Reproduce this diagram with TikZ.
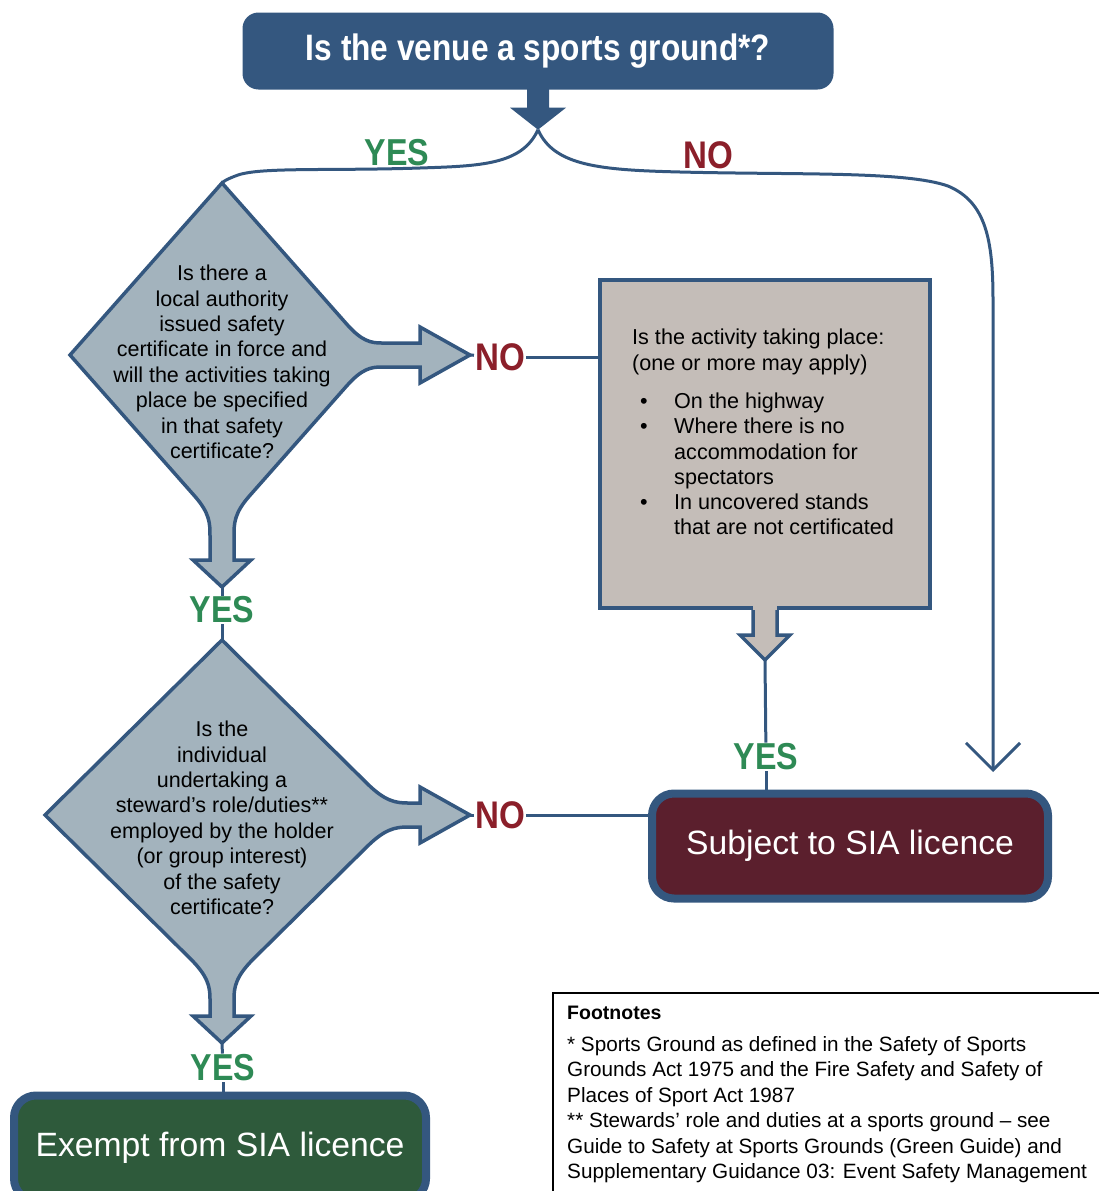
\documentclass[tikz,border=0pt]{standalone}
\usepackage{fontspec}
\setmainfont{Liberation Sans}
\newfontfamily\narrowfont[FakeStretch=0.86]{Liberation Sans}
\usetikzlibrary{arrows.meta}
\usetikzlibrary{positioning}
\definecolor{sgblue}{HTML}{34577F}
\definecolor{sggreen}{HTML}{2E8A55}
\definecolor{sgred}{HTML}{8B1F2A}
\definecolor{sgdiam}{HTML}{A3B3BD}
\definecolor{sggrey}{HTML}{C4BDB8}
\definecolor{sgmaroon}{HTML}{5B1F2D}
\definecolor{sgforest}{HTML}{2E5A3B}
\tikzset{flow/.style={draw=sgblue, line width=3pt},
 yeslabel/.style={text=sggreen, inner sep=1pt, font=\narrowfont\bfseries\fontsize{37.5}{37.5}\selectfont},
 nolabel/.style={text=sgred, inner sep=1pt, font=\narrowfont\bfseries\fontsize{38.5}{38.5}\selectfont},
 question/.style={fill=sgblue, rounded corners=16pt, minimum width=591pt, minimum height=77pt,
  text=white, font=\narrowfont\bfseries\fontsize{36.8}{36.8}\selectfont},
 decisiontext/.style={align=center, inner sep=0pt, font=\fontsize{21.5}{25.4}\selectfont},
 actbox/.style={fill=sggrey, draw=sgblue, line width=4pt, minimum width=330pt, minimum height=328pt},
 outcome/.style={draw=sgblue, line width=8pt, rounded corners=22pt, minimum height=105pt,
  text=white, font=\fontsize{33.7}{33.7}\selectfont},
 notebox/.style={draw=black, line width=1.5pt},
 }
\newcommand{\actitem}{\makebox[42pt][l]{\hspace{8pt}\textbullet}}
\newcommand{\decision}[6]{%
 \begin{scope}[shift={(#1,#2)}]
  \filldraw[fill=sgdiam, draw=sgblue, line width=3.5pt]
   (0,-#4) -- ({0.82*#3},{-0.18*#4})
   .. controls ({0.92*#3},{-0.08*#4}) and ({0.98*#3},-12) .. ({1.05*#3},-12)
   -- ({#5-50},-12) -- ({#5-50},-28) -- (#5,0) -- ({#5-50},28) -- ({#5-50},12) -- ({1.05*#3},12)
   .. controls ({0.98*#3},12) and ({0.92*#3},{0.08*#4}) .. ({0.82*#3},{0.18*#4})
   -- ({0.18*#3},{0.82*#4})
   .. controls ({0.08*#3},{0.92*#4}) and (12,{0.98*#4}) .. (12,{1.05*#4})
   -- (12,{#6-27}) -- (29,{#6-27}) -- (0,#6) -- (-29,{#6-27}) -- (-12,{#6-27}) -- (-12,{1.05*#4})
   .. controls (-12,{0.98*#4}) and ({-0.08*#3},{0.92*#4}) .. ({-0.18*#3},{0.82*#4})
   -- (-#3,0) -- cycle;
 \end{scope}}

\begin{document}
\begin{tikzpicture}[x=1pt, y=-1pt]
    \useasboundingbox (0,0) rectangle (1099,1191);
    \clip (0,0) rectangle (1099,1191);

    \node[question] (q) at (538,51) {Is the venue a sports ground*?};
    \fill[sgblue] (q.south) ++(-11,-3) -- ++(0,21) -- ++(-17,0) -- ++(28,22) coordinate (qtip)
        -- ++(28,-22) -- ++(-17,0) -- ++(0,-21) -- cycle;

    \decision{222}{355}{152}{172}{248}{232}
    \coordinate (d1t) at (222,183);
    \coordinate (d1r) at (470,355);
    \coordinate (d1b) at (222,587);
    \node[decisiontext] (d1) at (222,362) {Is there a\\local authority\\issued safety\\certificate in force and\\
        will the activities taking\\place be specified\\in that safety\\certificate?};

    \decision{222}{815}{177}{175}{248}{228}
    \coordinate (d2t) at (222,640);
    \coordinate (d2r) at (470,815);
    \coordinate (d2b) at (222,1043);
    \node[decisiontext] (d2) at (222,818) {Is the\\individual\\undertaking a\\steward’s role/duties**\\
        employed by the holder\\(or group interest)\\of the safety\\certificate?};

    \node[actbox] (act) at (765,444) {};
    \node[anchor=north west, align=left, inner sep=0pt, font=\fontsize{21.6}{25.3}\selectfont]
        (acttxt) at (632,329) {Is the activity taking place:\\(one or more may apply)\\[13pt]
        \actitem On the highway\\\actitem Where there is no\\\hspace*{42pt}accommodation for\\
        \hspace*{42pt}spectators\\\actitem In uncovered stands\\\hspace*{42pt}that are not certificated};
    \fill[sggrey] (act.south) ++(-12,-6) rectangle ++(24,30);
    \draw[flow, line width=3.5pt, fill=sggrey] (act.south) ++(-12,0) -- ++(0,25) -- ++(-13,0)
        -- ++(25,25) coordinate (acttip) -- ++(25,-25) -- ++(-13,0) -- ++(0,-25);

    \node[outcome, fill=sgmaroon, minimum width=396pt] (sub) at (850,846) {Subject to SIA licence};
    \node[outcome, fill=sgforest, minimum width=412pt] (ex) at (220,1148) {Exempt from SIA licence};

    \node[yeslabel] (yes0) at (397,153) {YES};
    \node[nolabel] (no0) at (708,155) {NO};
    \node[nolabel] (no1) at (500,357) {NO};
    \node[yeslabel] (yes1) at (222,610) {YES};
    \node[nolabel] (no2) at (500,815) {NO};
    \node[yeslabel] (yes2) at (766,757) {YES};
    \node[yeslabel] (yes3) at (223,1068) {YES};
    \coordinate (noend) at (993,772);

    \draw[flow] (qtip) .. controls (522,165) and (480,166) .. (420,168)
        .. controls (330,171) and (262,167) .. (238,175) .. controls (230,178) and (225,180) .. (d1t);
    \draw[flow, -{Straight Barb[length=27pt, width=54pt]}] (qtip) .. controls (554,166) and (600,170) .. (680,172)
        .. controls (800,175) and (905,171) .. (948,186) .. controls (986,202) and (993,240) .. (993,300) -- (noend);
    \draw[flow] (d1r) -- (no1);
    \draw[flow] (no1) -- (act.west |- no1);
    \draw[flow] (d1b) -- (yes1);
    \draw[flow] (yes1) -- (d2t);
    \draw[flow] (d2r) -- (no2);
    \draw[flow] (no2) -- (sub.west |- no2);
    \draw[flow] (acttip) -- (yes2);
    \draw[flow] (yes2) -- (yes2 |- sub.north);
    \draw[flow] (d2b) -- (yes3);
    \draw[flow] (yes3) -- (yes3 |- ex.north);

    \draw[notebox] (553,993) rectangle (1110,1200);
    \node[anchor=north west, align=left, inner sep=0pt, font=\fontsize{20.7}{25.5}\selectfont]
        (notes) at (567,1006) {{\bfseries\fontsize{19.5}{19.5}\selectfont Footnotes}\\[6pt]
        * Sports Ground as defined in the Safety of Sports\\
        Grounds Act 1975 and the Fire Safety and Safety of\\
        Places of Sport Act 1987\\
        ** Stewards’ role and duties at a sports ground – see\\
        Guide to Safety at Sports Grounds (Green Guide) and\\
        Supplementary Guidance 03: Event Safety Management};
\end{tikzpicture}
\end{document}
